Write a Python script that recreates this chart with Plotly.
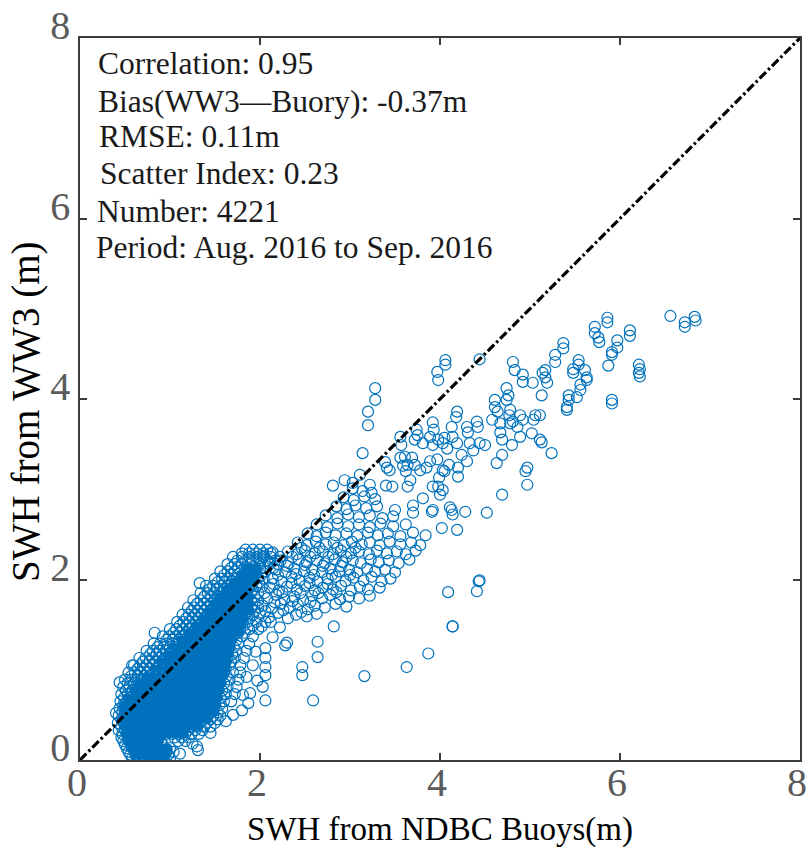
import plotly.graph_objects as go

# ---------------- data ----------------
# dense core: rows of (WW3 value, list of buoy values)
core_rows = [
    (0.02, [0.58, 0.65, 0.72, 0.79, 0.86, 0.93, 1.00]),
    (0.09, [0.54, 0.61, 0.68, 0.75, 0.82, 0.89, 0.96, 1.04]),
    (0.17, [0.50, 0.57, 0.64, 0.71, 0.78, 0.85, 0.92]),
    (0.25, [0.46, 0.53, 0.60, 0.67, 0.74, 0.81, 0.88, 1.05, 1.13, 1.21]),
    (0.33, [0.43, 0.50, 0.57, 0.64, 0.71, 0.78, 0.85, 0.92, 0.99, 1.06, 1.13, 1.20, 1.28, 1.36]),
    (0.41, [0.42, 0.49, 0.56, 0.63, 0.70, 0.77, 0.84, 0.91, 0.98, 1.05, 1.12, 1.19, 1.26, 1.33, 1.41, 1.50]),
    (0.49, [0.43, 0.50, 0.57, 0.64, 0.71, 0.78, 0.85, 0.92, 0.99, 1.06, 1.13, 1.20, 1.27, 1.34, 1.41, 1.48, 1.56]),
    (0.57, [0.44, 0.51, 0.58, 0.65, 0.72, 0.79, 0.86, 0.93, 1.00, 1.07, 1.14, 1.21, 1.28, 1.35, 1.42, 1.49, 1.58]),
    (0.65, [0.45, 0.52, 0.59, 0.66, 0.73, 0.80, 0.87, 0.94, 1.01, 1.08, 1.15, 1.22, 1.29, 1.36, 1.43, 1.50, 1.60, 1.68]),
    (0.73, [0.46, 0.53, 0.60, 0.67, 0.74, 0.81, 0.88, 0.95, 1.02, 1.09, 1.16, 1.23, 1.30, 1.37, 1.44, 1.51, 1.62, 1.72]),
    (0.81, [0.48, 0.55, 0.62, 0.69, 0.76, 0.83, 0.90, 0.97, 1.04, 1.11, 1.18, 1.25, 1.32, 1.39, 1.46, 1.53, 1.64, 1.74]),
    (0.89, [0.50, 0.57, 0.64, 0.71, 0.78, 0.85, 0.92, 0.99, 1.06, 1.13, 1.20, 1.27, 1.34, 1.41, 1.48, 1.55, 1.66, 1.76]),
    (0.97, [0.54, 0.61, 0.68, 0.75, 0.82, 0.89, 0.96, 1.03, 1.10, 1.17, 1.24, 1.31, 1.38, 1.45, 1.52, 1.60, 1.70, 1.78]),
    (1.05, [0.60, 0.67, 0.74, 0.81, 0.88, 0.95, 1.02, 1.09, 1.16, 1.23, 1.30, 1.37, 1.44, 1.51, 1.58, 1.66, 1.78]),
    (1.13, [0.66, 0.73, 0.80, 0.87, 0.94, 1.01, 1.08, 1.15, 1.22, 1.29, 1.36, 1.43, 1.50, 1.57, 1.64, 1.72, 1.82]),
    (1.21, [0.74, 0.81, 0.88, 0.95, 1.02, 1.09, 1.16, 1.23, 1.30, 1.37, 1.44, 1.51, 1.58, 1.65, 1.74, 1.85]),
    (1.29, [0.82, 0.89, 0.96, 1.03, 1.10, 1.17, 1.24, 1.31, 1.38, 1.45, 1.52, 1.59, 1.66, 1.76, 1.88]),
    (1.37, [0.92, 0.99, 1.06, 1.13, 1.20, 1.27, 1.34, 1.41, 1.48, 1.55, 1.62, 1.70, 1.80, 1.92]),
    (1.45, [1.00, 1.07, 1.14, 1.21, 1.28, 1.35, 1.42, 1.49, 1.56, 1.63, 1.70, 1.78, 1.88, 1.98]),
    (1.53, [1.08, 1.15, 1.22, 1.29, 1.36, 1.43, 1.50, 1.57, 1.64, 1.71, 1.78, 1.86, 1.96, 2.06]),
    (1.61, [1.14, 1.21, 1.28, 1.35, 1.42, 1.49, 1.56, 1.63, 1.70, 1.77, 1.84, 1.92]),
    (1.69, [1.20, 1.27, 1.34, 1.41, 1.48, 1.55, 1.62, 1.69, 1.76, 1.83, 1.90, 1.98]),
    (1.77, [1.26, 1.34, 1.42, 1.50, 1.58, 1.66, 1.74, 1.82, 1.90, 1.98]),
    (1.85, [1.34, 1.42, 1.50, 1.58, 1.66, 1.74, 1.82, 1.90, 1.98]),
    (1.93, [1.40, 1.48, 1.56, 1.64, 1.72, 1.80, 1.88, 1.96]),
    (2.01, [1.50, 1.58, 1.66, 1.74, 1.84, 1.94, 2.04]),
    (2.09, [1.56, 1.64, 1.72, 1.86, 1.96, 2.06]),
    (2.17, [1.64, 1.72, 1.80, 1.90, 2.00, 2.10, 2.20]),
    (2.25, [1.70, 1.80, 1.88, 1.96, 2.04, 2.12, 2.22]),
    (2.33, [1.84, 1.92, 2.00, 2.08]),
]

# in-between rows of the same dense core
core_rows_b = [
    (0.06, [0.56, 0.63, 0.70, 0.77, 0.84, 0.91, 0.98]),
    (0.13, [0.52, 0.59, 0.66, 0.73, 0.80, 0.87, 0.94, 1.00]),
    (0.21, [0.48, 0.55, 0.62, 0.69, 0.76, 0.83, 0.90, 1.09, 1.17]),
    (0.29, [0.47, 0.54, 0.61, 0.68, 0.75, 0.82, 0.89, 0.96, 1.03, 1.10, 1.17, 1.24, 1.32]),
    (0.37, [0.46, 0.53, 0.60, 0.67, 0.74, 0.81, 0.88, 0.95, 1.02, 1.09, 1.16, 1.23, 1.30, 1.38, 1.45]),
    (0.45, [0.46, 0.53, 0.60, 0.67, 0.74, 0.81, 0.88, 0.95, 1.02, 1.09, 1.16, 1.23, 1.30, 1.37, 1.45, 1.53]),
    (0.53, [0.47, 0.54, 0.61, 0.68, 0.75, 0.82, 0.89, 0.96, 1.03, 1.10, 1.17, 1.24, 1.31, 1.38, 1.45, 1.53]),
    (0.61, [0.48, 0.55, 0.62, 0.69, 0.76, 0.83, 0.90, 0.97, 1.04, 1.11, 1.18, 1.25, 1.32, 1.39, 1.46, 1.55]),
    (0.69, [0.49, 0.56, 0.63, 0.70, 0.77, 0.84, 0.91, 0.98, 1.05, 1.12, 1.19, 1.26, 1.33, 1.40, 1.47, 1.56]),
    (0.77, [0.51, 0.58, 0.65, 0.72, 0.79, 0.86, 0.93, 1.00, 1.07, 1.14, 1.21, 1.28, 1.35, 1.42, 1.49, 1.58]),
    (0.85, [0.53, 0.60, 0.67, 0.74, 0.81, 0.88, 0.95, 1.02, 1.09, 1.16, 1.23, 1.30, 1.37, 1.44, 1.51, 1.60]),
    (0.93, [0.57, 0.64, 0.71, 0.78, 0.85, 0.92, 0.99, 1.06, 1.13, 1.20, 1.27, 1.34, 1.41, 1.48, 1.56, 1.63]),
    (1.01, [0.64, 0.71, 0.78, 0.85, 0.92, 0.99, 1.06, 1.13, 1.20, 1.27, 1.34, 1.41, 1.48, 1.55, 1.62]),
    (1.09, [0.70, 0.77, 0.84, 0.91, 0.98, 1.05, 1.12, 1.19, 1.26, 1.33, 1.40, 1.47, 1.54, 1.61, 1.68]),
    (1.17, [0.78, 0.85, 0.92, 0.99, 1.06, 1.13, 1.20, 1.27, 1.34, 1.41, 1.48, 1.55, 1.62, 1.69]),
    (1.25, [0.86, 0.93, 1.00, 1.07, 1.14, 1.21, 1.28, 1.35, 1.42, 1.49, 1.56, 1.63, 1.71]),
    (1.33, [0.96, 1.03, 1.10, 1.17, 1.24, 1.31, 1.38, 1.45, 1.52, 1.59, 1.66, 1.74]),
    (1.41, [1.04, 1.11, 1.18, 1.25, 1.32, 1.39, 1.46, 1.53, 1.60, 1.67, 1.74, 1.83]),
    (1.49, [1.11, 1.18, 1.25, 1.32, 1.39, 1.46, 1.53, 1.60, 1.67, 1.74, 1.82, 1.92]),
    (1.57, [1.18, 1.25, 1.32, 1.39, 1.46, 1.53, 1.60, 1.67, 1.74, 1.81, 1.88]),
    (1.65, [1.24, 1.31, 1.38, 1.45, 1.52, 1.59, 1.66, 1.73, 1.80, 1.87, 1.94]),
    (1.73, [1.30, 1.38, 1.46, 1.54, 1.62, 1.70, 1.78, 1.86, 1.94]),
    (1.81, [1.38, 1.46, 1.54, 1.62, 1.70, 1.78, 1.86, 1.94]),
    (1.89, [1.44, 1.52, 1.60, 1.68, 1.76, 1.84, 1.92]),
    (1.97, [1.53, 1.61, 1.69, 1.78, 1.89, 1.99]),
    (2.05, [1.60, 1.68, 1.80, 1.91, 2.01]),
    (2.13, [1.68, 1.76, 1.85, 1.95, 2.05, 2.15]),
    (2.21, [1.75, 1.84, 1.92, 2.00, 2.08, 2.17]),
    (2.29, [1.80, 1.88, 1.96, 2.04, 2.12]),
]

# the thickest part of the core, where thousands of rings overlap into solid colour
core_solid_rows = [
    (0.05, [0.60, 0.66, 0.72, 0.78, 0.84, 0.90, 0.96]),
    (0.13, [0.56, 0.62, 0.68, 0.74, 0.80, 0.86, 0.92, 0.98]),
    (0.21, [0.52, 0.58, 0.64, 0.70, 0.76, 0.82, 0.88]),
    (0.29, [0.50, 0.56, 0.62, 0.68, 0.74, 0.80, 0.86, 0.92, 0.98, 1.04, 1.10, 1.16]),
    (0.37, [0.48, 0.54, 0.60, 0.66, 0.72, 0.78, 0.84, 0.90, 0.96, 1.02, 1.08, 1.14, 1.20, 1.26, 1.32]),
    (0.45, [0.46, 0.52, 0.58, 0.64, 0.70, 0.76, 0.82, 0.88, 0.94, 1.00, 1.06, 1.12, 1.18, 1.24, 1.30,
            1.36, 1.42]),
    (0.53, [0.48, 0.54, 0.60, 0.66, 0.72, 0.78, 0.84, 0.90, 0.96, 1.02, 1.08, 1.14, 1.20, 1.26, 1.32,
            1.38, 1.44, 1.50]),
    (0.61, [0.48, 0.52, 0.56, 0.62, 0.68, 0.74, 0.80, 0.86, 0.92, 0.98, 1.04, 1.10, 1.16, 1.22, 1.28,
            1.34, 1.40, 1.46, 1.52]),
    (0.69, [0.52, 0.58, 0.64, 0.70, 0.76, 0.82, 0.88, 0.94, 1.00, 1.06, 1.12, 1.18, 1.24, 1.30, 1.36,
            1.42, 1.48, 1.54]),
    (0.77, [0.60, 0.66, 0.72, 0.78, 0.84, 0.90, 0.96, 1.02, 1.08, 1.14, 1.20, 1.26, 1.32, 1.38, 1.44,
            1.50, 1.56]),
    (0.85, [0.66, 0.72, 0.80, 0.86, 0.92, 0.98, 1.04, 1.10, 1.16, 1.22, 1.28, 1.34, 1.40, 1.46, 1.52, 1.58]),
    (0.93, [0.74, 0.80, 0.88, 0.94, 1.00, 1.06, 1.12, 1.18, 1.24, 1.30, 1.36, 1.42, 1.48, 1.54, 1.60]),
    (1.01, [0.82, 0.88, 0.96, 1.02, 1.08, 1.14, 1.20, 1.26, 1.32, 1.38, 1.44, 1.50, 1.56, 1.62]),
    (1.09, [0.90, 0.96, 1.04, 1.10, 1.16, 1.22, 1.28, 1.34, 1.40, 1.46, 1.52, 1.58, 1.64]),
    (1.17, [0.98, 1.04, 1.12, 1.18, 1.24, 1.30, 1.36, 1.42, 1.48, 1.54, 1.60, 1.66]),
    (1.25, [1.04, 1.10, 1.20, 1.26, 1.32, 1.38, 1.44, 1.50, 1.56, 1.62, 1.68]),
    (1.33, [1.12, 1.18, 1.22, 1.28, 1.34, 1.40, 1.46, 1.52, 1.58, 1.64, 1.70]),
    (1.41, [1.20, 1.26, 1.30, 1.36, 1.42, 1.48, 1.54, 1.60, 1.66, 1.72, 1.78]),
    (1.49, [1.28, 1.34, 1.38, 1.44, 1.50, 1.56, 1.62, 1.68, 1.74, 1.80]),
    (1.57, [1.36, 1.42, 1.46, 1.52, 1.58, 1.64, 1.70, 1.76, 1.82]),
    (1.65, [1.42, 1.48, 1.52, 1.58, 1.64, 1.70, 1.76, 1.82, 1.88]),
    (1.73, [1.48, 1.54, 1.60, 1.64, 1.70, 1.76, 1.82, 1.88]),
    (1.81, [1.54, 1.60, 1.64, 1.70, 1.76, 1.82, 1.88]),
    (1.89, [1.62, 1.68, 1.74, 1.80, 1.86]),
    (1.97, [1.70, 1.76, 1.82, 1.88, 1.94]),
    (2.05, [1.78, 1.84, 1.90, 1.96]),
    (2.13, [1.84, 1.90, 1.96]),
]

# band between 2 m and 4 m (buoy, WW3)
band_pts = [
    (2.02, 1.48), (2.12, 1.53), (2.22, 1.47),
    (2.00, 1.62), (2.10, 1.58), (2.20, 1.63), (2.31, 1.57), (2.40, 1.61), (2.52, 1.59), (2.63, 1.62),
    (2.03, 1.71), (2.13, 1.68), (2.23, 1.73), (2.33, 1.69), (2.42, 1.72), (2.53, 1.67), (2.61, 1.71),
    (2.72, 1.69), (2.84, 1.73), (2.96, 1.70),
    (2.08, 1.79), (2.18, 1.83), (2.27, 1.78), (2.38, 1.81), (2.48, 1.77), (2.58, 1.82), (2.69, 1.79),
    (2.78, 1.83), (2.89, 1.78), (2.99, 1.81), (3.10, 1.79), (3.22, 1.82),
    (2.11, 1.91), (2.21, 1.88), (2.30, 1.92), (2.41, 1.89), (2.50, 1.93), (2.61, 1.88), (2.70, 1.91),
    (2.81, 1.89), (2.90, 1.93), (3.01, 1.88), (3.11, 1.92), (3.20, 1.89), (3.33, 1.91),
    (2.14, 2.01), (2.24, 1.98), (2.35, 2.03), (2.44, 1.99), (2.55, 2.02), (2.64, 1.98), (2.75, 2.01),
    (2.84, 2.03), (2.95, 1.98), (3.04, 2.02), (3.15, 1.99), (3.24, 2.03), (3.35, 1.98), (3.45, 2.01),
    (2.18, 2.11), (2.28, 2.08), (2.38, 2.12), (2.49, 2.09), (2.58, 2.11), (2.69, 2.08), (2.78, 2.12),
    (2.88, 2.09), (2.99, 2.11), (3.08, 2.08), (3.19, 2.12), (3.28, 2.09), (3.39, 2.11), (3.50, 2.08),
    (2.23, 2.21), (2.32, 2.18), (2.43, 2.22), (2.52, 2.19), (2.63, 2.21), (2.72, 2.18), (2.83, 2.22),
    (2.92, 2.19), (3.03, 2.21), (3.12, 2.18), (3.23, 2.22), (3.32, 2.19), (3.43, 2.21), (3.54, 2.18), (3.66, 2.22),
    (2.31, 2.31), (2.41, 2.28), (2.50, 2.32), (2.61, 2.29), (2.70, 2.31), (2.81, 2.28), (2.90, 2.32),
    (3.01, 2.29), (3.10, 2.31), (3.21, 2.28), (3.30, 2.32), (3.41, 2.29), (3.52, 2.31), (3.62, 2.28), (3.73, 2.32),
    (2.42, 2.41), (2.52, 2.38), (2.62, 2.42), (2.73, 2.39), (2.82, 2.41), (2.93, 2.38), (3.02, 2.42),
    (3.13, 2.39), (3.22, 2.41), (3.33, 2.38), (3.44, 2.42), (3.56, 2.39), (3.68, 2.41), (3.78, 2.38),
    (2.53, 2.51), (2.63, 2.48), (2.73, 2.52), (2.84, 2.49), (2.96, 2.51), (3.08, 2.48), (3.20, 2.52),
    (3.31, 2.49), (3.42, 2.51), (3.56, 2.48), (3.70, 2.52), (3.84, 2.49),
    (2.63, 2.61), (2.75, 2.58), (2.86, 2.62), (2.98, 2.59), (3.10, 2.61), (3.22, 2.58), (3.34, 2.62),
    (3.48, 2.59), (3.62, 2.61),
    (2.73, 2.71), (2.86, 2.68), (2.98, 2.72), (3.10, 2.69), (3.22, 2.71), (3.36, 2.68),
    (2.85, 2.81), (2.96, 2.78), (3.06, 2.82), (3.18, 2.79), (3.30, 2.81),
    (2.93, 2.91), (3.04, 2.88), (3.16, 2.92), (3.28, 2.89),
    (3.03, 3.01), (3.14, 2.98),
]

# extra rings filling the denser left part of the band
band_extra = [
    (2.06, 1.65), (2.16, 1.75), (2.26, 1.66), (2.36, 1.76), (2.46, 1.64), (2.56, 1.75), (2.05, 1.85),
    (2.15, 1.95), (2.25, 1.86), (2.35, 1.96), (2.45, 1.85), (2.55, 1.96), (2.65, 1.85), (2.75, 1.95),
    (2.85, 1.86), (2.20, 2.05), (2.30, 2.15), (2.40, 2.06), (2.50, 2.16), (2.60, 2.05), (2.70, 2.15),
    (2.80, 2.05), (2.90, 2.15), (3.00, 2.05), (2.36, 2.25), (2.46, 2.35), (2.56, 2.25), (2.66, 2.35),
    (2.76, 2.25), (2.86, 2.35), (2.96, 2.25), (3.06, 2.35), (2.04, 2.26), (2.14, 2.30), (2.10, 2.20),
    (2.00, 2.12), (1.98, 2.02), (2.02, 1.92),
]

# upper cloud, 3.3 m to 5.3 m
upper_pts = [
    (4.06, 4.43), (4.06, 4.38), (3.97, 4.30), (3.98, 4.21), (4.44, 4.44), (4.81, 4.41), (4.83, 4.32),
    (4.92, 4.27), (4.92, 4.19), (5.03, 4.18), (5.14, 4.29), (4.74, 4.12), (4.76, 4.04), (4.74, 3.99),
    (4.61, 3.99), (4.61, 3.91), (4.64, 3.86), (4.78, 3.88), (4.77, 3.82), (4.89, 3.82), (5.06, 3.82),
    (5.04, 3.77), (4.92, 3.77), (4.81, 3.75), (4.58, 3.77), (4.67, 3.73), (4.78, 3.73), (4.86, 3.69),
    (4.89, 3.58), (5.02, 3.62), (5.11, 3.55), (5.13, 3.52), (4.80, 3.49), (4.67, 3.63), (4.69, 3.55),
    (4.69, 3.38), (4.63, 3.29), (5.24, 3.40), (4.97, 3.24), (4.95, 3.20), (4.97, 3.05), (4.69, 2.94),
    (4.52, 2.74), (4.28, 2.75),
    (4.19, 3.86), (4.18, 3.80), (4.13, 3.69), (4.30, 3.69), (4.41, 3.75), (4.42, 3.69), (4.31, 3.63),
    (4.14, 3.58), (4.19, 3.51), (4.33, 3.51), (4.44, 3.51), (4.50, 3.49), (4.37, 3.43), (4.24, 3.38),
    (4.30, 3.31), (4.20, 3.24), (4.20, 3.14),
    (3.92, 3.74), (3.93, 3.66), (3.89, 3.58), (3.98, 3.55), (4.03, 3.51), (4.05, 3.57), (4.08, 3.45),
    (3.92, 3.49), (3.74, 3.66), (3.75, 3.60), (3.72, 3.55), (3.81, 3.51), (3.56, 3.58), (3.57, 3.49),
    (3.61, 3.36), (3.69, 3.35), (3.72, 3.27), (3.64, 3.27), (3.59, 3.26), (3.78, 3.21), (3.85, 3.24),
    (3.89, 3.31), (3.97, 3.33), (4.03, 3.21), (4.05, 3.20), (4.10, 3.27), (3.99, 3.13), (3.92, 3.03),
    (3.98, 3.03), (4.03, 2.99), (4.00, 2.94), (3.64, 3.03), (3.47, 3.03), (3.40, 3.04), (3.44, 3.21),
    (3.39, 3.30), (3.41, 3.24), (3.70, 2.82), (3.70, 2.74), (3.50, 2.77), (3.48, 2.70), (3.92, 2.77),
    (4.11, 2.80), (4.14, 2.72), (4.02, 2.57), (4.19, 2.55), (4.13, 2.77), (3.91, 2.75), (3.81, 2.90),
    (3.67, 3.10), (3.62, 3.20), (3.56, 3.35),
    (3.28, 4.12), (3.28, 3.99), (3.20, 3.86), (3.20, 3.71), (3.14, 3.40),
    (2.81, 3.04), (2.94, 3.10), (3.03, 3.07), (3.11, 3.16), (3.22, 3.05), (3.24, 2.96),
]

# top-right cloud, 5.1 m to 6.9 m
top_pts = [
    (6.56, 4.92), (6.72, 4.85), (6.72, 4.80), (6.83, 4.91), (6.84, 4.87), (6.11, 4.76), (6.11, 4.70),
    (5.86, 4.90), (5.86, 4.85), (5.72, 4.80), (5.72, 4.73), (5.76, 4.68), (5.77, 4.63), (5.97, 4.65),
    (5.97, 4.57), (5.91, 4.52), (5.91, 4.49), (5.87, 4.37), (6.21, 4.38), (6.22, 4.33), (6.21, 4.29),
    (6.22, 4.25), (5.91, 3.99), (5.91, 3.95), (5.54, 4.43), (5.54, 4.38), (5.48, 4.33), (5.48, 4.29),
    (5.61, 4.32), (5.63, 4.24), (5.63, 4.21), (5.56, 4.16), (5.56, 4.10), (5.52, 4.02), (5.43, 4.04),
    (5.43, 3.99), (5.41, 3.91), (5.41, 3.88), (5.37, 4.62), (5.37, 4.56), (5.28, 4.49), (5.28, 4.41),
    (5.17, 4.32), (5.17, 4.24), (5.19, 4.18), (5.13, 4.04), (5.11, 3.82),
]

# scattered low points
outlier_pts = [
    (2.59, 0.66), (2.82, 1.48), (2.64, 1.31), (2.64, 1.14), (2.47, 1.03), (2.47, 0.94), (3.16, 0.93),
    (3.63, 1.03), (3.87, 1.18), (4.14, 1.48), (4.09, 1.86), (4.41, 1.87), (4.43, 1.98), (2.06, 0.94),
    (2.03, 0.81), (1.89, 0.74), (2.06, 0.66), (1.87, 0.63), (2.14, 1.36), (2.28, 1.27), (2.30, 1.30),
    (0.83, 1.41), (1.33, 1.96), (1.11, 0.07), (1.31, 0.11), (1.30, 0.15), (1.81, 0.72), (2.06, 1.24),
    (2.06, 1.03), (2.06, 1.13), (1.95, 1.20), (1.92, 1.05), (1.97, 0.88), (1.85, 0.92), (1.80, 0.55),
    (1.70, 0.50), (1.62, 0.43), (1.45, 0.30), (1.25, 0.18), (0.40, 0.52), (0.44, 0.86), (0.58, 1.05),
    (4.44, 1.99), (4.14, 1.48),
]

ref_line = [0, 8]
tick_vals = [0, 2, 4, 6, 8]
x_title = "SWH from NDBC Buoys(m)"
y_title = "SWH from WW3 (m)"
stats_lines = [
    "Correlation: 0.95",
    "Bias(WW3\u2014Buory): -0.37m",
    "RMSE: 0.11m",
    "Scatter Index: 0.23",
    "Number: 4221",
    "Period: Aug. 2016 to Sep. 2016",
]
stats_x_px = [97, 97, 98, 99, 96, 95]
stats_y_px = [64, 101, 136, 174, 211, 247]

# ---------------- build ----------------
def rows_to_xy(tables):
    ox, oy = [], []
    for table in tables:
        for yv, row in table:
            for xv in row:
                ox.append(xv)
                oy.append(yv)
    return ox, oy

xs, ys = rows_to_xy((core_rows, core_rows_b))
for group in (band_pts, band_extra, upper_pts, top_pts, outlier_pts):
    for xv, yv in group:
        xs.append(xv)
        ys.append(yv)
sx, sy = rows_to_xy((core_solid_rows,))

W, H = 807, 848
ML, MR, MT, MB = 80, 7, 38, 88
pw, ph = W - ML - MR, H - MT - MB
SERIF = "Liberation Serif, Times New Roman, serif"
BLUE = "#0072BD"

fig = go.Figure()
fig.add_trace(go.Scatter(
    x=sx, y=sy, mode="markers",
    marker=dict(symbol="circle", size=9, color=BLUE, line=dict(width=0)),
    showlegend=False, hoverinfo="skip"))
fig.add_trace(go.Scatter(
    x=xs, y=ys, mode="markers",
    marker=dict(symbol="circle-open", size=11, color=BLUE,
                line=dict(width=1.2, color=BLUE)),
    showlegend=False, hoverinfo="skip"))
fig.add_trace(go.Scatter(
    x=ref_line, y=ref_line, mode="lines",
    line=dict(color="black", width=3.2, dash="9px,3px,2.5px,3px"),
    showlegend=False, hoverinfo="skip"))

axis_common = dict(
    range=[0, 8], tickvals=tick_vals, ticktext=[str(v) for v in tick_vals],
    showgrid=False, zeroline=False, showline=True, mirror="ticks",
    linecolor="#3c3c3c", linewidth=1.5, ticks="inside", ticklen=7, tickwidth=1.5,
    tickcolor="#3c3c3c", tickfont=dict(family=SERIF, size=40, color="#5a5a5a"),
    automargin=False, ticklabeloverflow="allow",
)
fig.update_xaxes(**axis_common, ticklabelstandoff=-14, ticklabelshift=-3,
                 title=dict(text=x_title, standoff=20,
                            font=dict(family=SERIF, size=33, color="black")))
fig.update_yaxes(**axis_common, ticklabelshift=-13, ticklabelstandoff=0)

# y-axis title, set slightly below the middle of the axis as in the reference
fig.add_annotation(text=y_title, textangle=-90, xref="paper", yref="paper",
                   x=(26 - ML) / pw, y=(H - MB - 412) / ph,
                   xanchor="center", yanchor="middle", showarrow=False,
                   font=dict(family=SERIF, size=39, color="black"))

for txt, xp, yp in zip(stats_lines, stats_x_px, stats_y_px):
    fig.add_annotation(text=txt, xref="paper", yref="paper",
                       x=(xp - ML) / pw, y=(H - MB - yp) / ph,
                       xanchor="left", yanchor="middle", showarrow=False,
                       font=dict(family=SERIF, size=31.5, color="#1a1a1a"),
                       borderpad=0)

fig.update_layout(
    width=W, height=H, margin=dict(l=ML, r=MR, t=MT, b=MB),
    plot_bgcolor="white", paper_bgcolor="white",
)
fig.write_html("out.html")
